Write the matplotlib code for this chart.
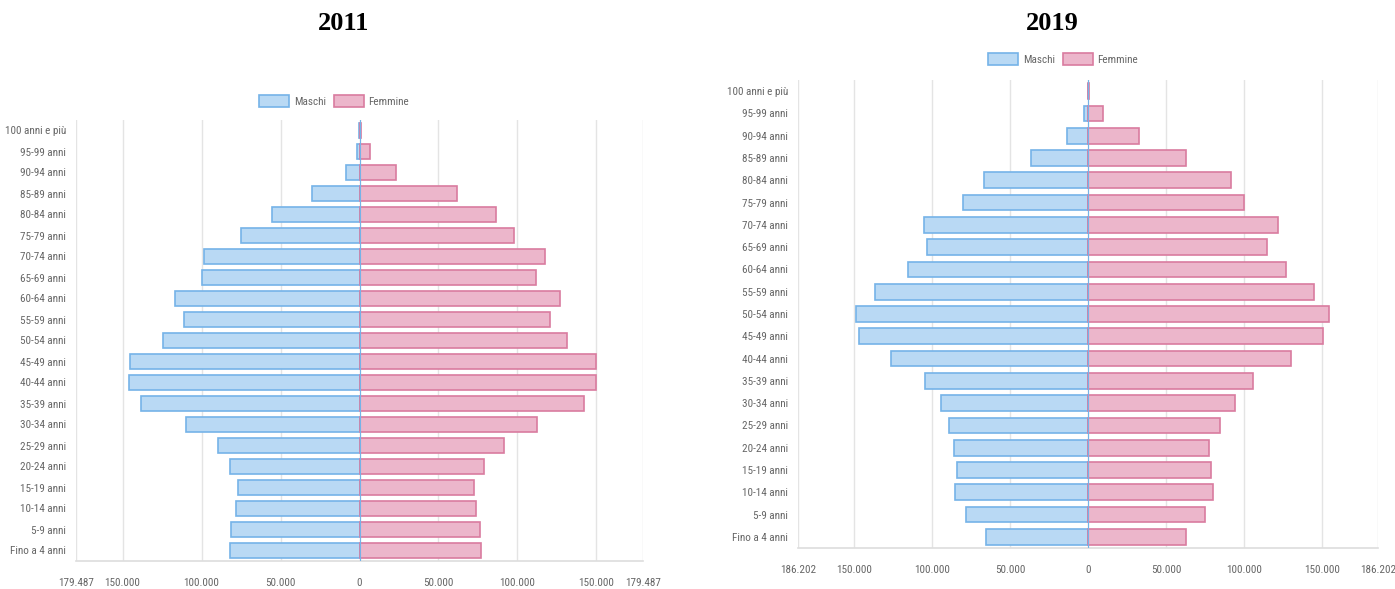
import matplotlib
matplotlib.use("Agg")
import matplotlib.pyplot as plt
from matplotlib import font_manager
from matplotlib.ticker import FixedLocator, FixedFormatter

# ---------------- data ----------------
age_groups = ["Fino a 4 anni", "5-9 anni", "10-14 anni", "15-19 anni", "20-24 anni",
              "25-29 anni", "30-34 anni", "35-39 anni", "40-44 anni", "45-49 anni",
              "50-54 anni", "55-59 anni", "60-64 anni", "65-69 anni", "70-74 anni",
              "75-79 anni", "80-84 anni", "85-89 anni", "90-94 anni", "95-99 anni",
              "100 anni e più"]

males_2011 = [82000, 81400, 78300, 76900, 82000, 89600, 109700, 138500, 145900, 145300,
              124400, 111400, 117000, 99800, 98600, 75200, 55400, 30200, 8500, 1400, 150]
females_2011 = [77200, 76000, 73500, 72400, 79100, 91300, 112200, 141900, 149500, 149500,
                131400, 120400, 127200, 111600, 117300, 97500, 86500, 61900, 22900, 6800, 850]

males_2019 = [65300, 78400, 85600, 84100, 86100, 89300, 94700, 104700, 126400, 146900,
              148900, 136600, 115800, 103500, 105500, 80400, 66700, 36500, 13400, 2300, 150]
females_2019 = [62700, 75000, 80100, 78700, 77600, 85000, 94700, 106100, 130100, 151200,
                154900, 144900, 126900, 115200, 121800, 100400, 91800, 62700, 32800, 9700, 900]

max_2011 = 179487
max_2019 = 186202
tick_vals = [50000, 100000, 150000]
series_names = ["Maschi", "Femmine"]
titles = ["2011", "2019"]

# ---------------- fonts ----------------
names_all = {f.name for f in font_manager.fontManager.ttflist}
fam = None
for cand in ["Roboto Condensed", "Liberation Sans Narrow", "Roboto", "DejaVu Sans"]:
    if cand in names_all:
        fam = cand
        break
base_size = 8.0 if fam == "Roboto Condensed" else 7.2
serif = "Liberation Serif" if "Liberation Serif" in names_all else "DejaVu Serif"

male_fill = "#b9d9f4"
male_edge = "#75b3e8"
fem_fill = "#ecb6cb"
fem_edge = "#d97c9f"
txt_col = "#666666"
grid_col = "#e4e4e4"

W, H = 1395, 589
fig = plt.figure(figsize=(W / 100, H / 100), dpi=100)


def fmt(v):
    return f"{int(round(abs(v))):,}".replace(",", ".")


def panel(rect, males, females, vmax, title, title_xy, legend_xy):
    ax = fig.add_axes(rect)
    y = list(range(len(age_groups)))
    ax.barh(y, [-m for m in males], height=0.7, color=male_fill, edgecolor=male_edge,
            linewidth=1.2, label=series_names[0], zorder=3)
    ax.barh(y, females, height=0.7, color=fem_fill, edgecolor=fem_edge,
            linewidth=1.2, label=series_names[1], zorder=3)
    ax.set_xlim(-vmax, vmax)
    ax.set_ylim(-0.5, len(age_groups) - 0.5)
    ticks = [-vmax] + [-t for t in tick_vals[::-1]] + [0] + tick_vals + [vmax]
    ax.xaxis.set_major_locator(FixedLocator(ticks))
    ax.xaxis.set_major_formatter(FixedFormatter([fmt(t) for t in ticks]))
    ax.set_yticks(y)
    ax.set_yticklabels(age_groups)
    ax.grid(axis="x", color=grid_col, linewidth=1, zorder=0)
    ax.grid(axis="y", visible=False)
    for s in ["top", "right", "left"]:
        ax.spines[s].set_visible(False)
    ax.spines["bottom"].set_color("#dddddd")
    ax.spines["bottom"].set_linewidth(1.2)
    ax.axvline(0, color=male_edge, linewidth=0.8, zorder=4)
    ax.tick_params(axis="both", length=0, labelcolor=txt_col,
                   labelsize=base_size, labelfontfamily=fam)
    ax.tick_params(axis="x", pad=12)
    ax.tick_params(axis="y", pad=7)
    fig.text(title_xy[0] / W, 1 - title_xy[1] / H, title, ha="center", va="center",
             fontsize=19, fontweight="bold", family=serif, color="#000000")
    leg = fig.legend(*ax.get_legend_handles_labels(), loc="center",
                     bbox_to_anchor=(legend_xy[0] / W, 1 - legend_xy[1] / H),
                     ncol=2, frameon=False, handlelength=2.7, handleheight=1.35,
                     handletextpad=0.4, columnspacing=0.7,
                     prop={"family": fam, "size": base_size})
    for t in leg.get_texts():
        t.set_color(txt_col)
    return ax


# left panel: x from 76 to 643 px, y from 120 to 561 px
panel([76 / W, (H - 561) / H, (643 - 76) / W, (561 - 120) / H],
      males_2011, females_2011, max_2011, titles[0], (344, 24), (334, 101))
# right panel: x from 798 to 1378 px, y from 80 to 548 px
panel([798 / W, (H - 548) / H, (1378 - 798) / W, (548 - 80) / H],
      males_2019, females_2019, max_2019, titles[1], (1052, 24), (1063, 59))

fig.savefig("out.png", dpi=100, facecolor="white")
